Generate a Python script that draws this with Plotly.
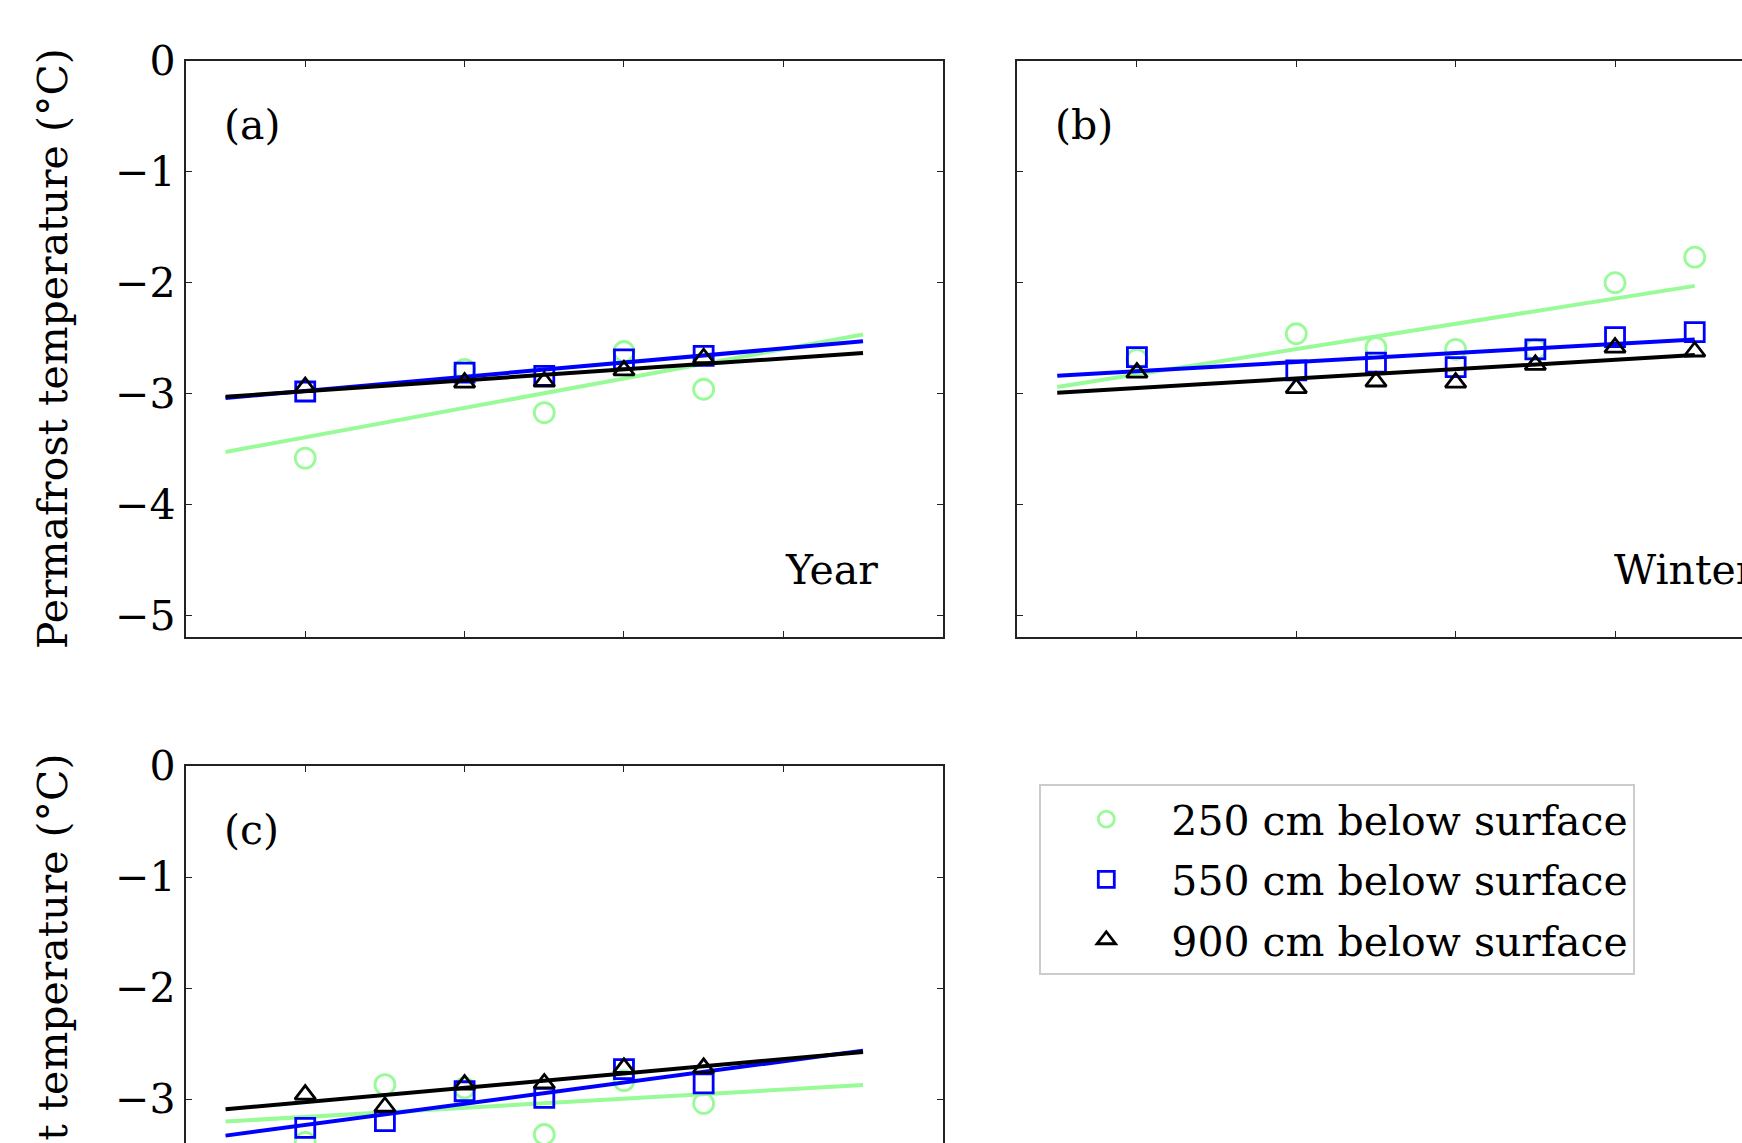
import numpy as np
import plotly.graph_objects as go

FONT = "DejaVu Serif"
FS = 41
W, H = 1742, 1143

# ---- data -------------------------------------------------------------
depth_labels = ["250 cm below surface", "550 cm below surface", "900 cm below surface"]

# (a) annual mean
years_year = [2010, 2012, 2013, 2014, 2015]
year_250 = [-3.58, -2.78, -3.17, -2.62, -2.96]
year_550 = [-2.98, -2.81, -2.84, -2.69, -2.66]
year_900 = [-2.94, -2.90, -2.89, -2.79, -2.68]

# (b) winter mean
years_winter = [2010, 2012, 2013, 2014, 2015, 2016, 2017]
winter_250 = [-2.69, -2.46, -2.585, -2.60, -2.60, -2.00, -1.77]
winter_550 = [-2.67, -2.79, -2.72, -2.76, -2.60, -2.49, -2.445]
winter_900 = [-2.81, -2.95, -2.89, -2.90, -2.74, -2.585, -2.62]

# (c)
years_c = [2010, 2011, 2012, 2013, 2014, 2015]
c_250 = [-3.39, -2.87, -2.90, -3.32, -2.835, -3.04]
c_550 = [-3.26, -3.20, -2.93, -2.99, -2.73, -2.86]
c_900 = [-2.96, -3.07, -2.87, -2.86, -2.72, -2.72]

trend_span = [2009, 2017]
year_ticks = [2010, 2012, 2014, 2016, 2018]

# ---- styling ----------------------------------------------------------
colors = ["#98FB98", "#0000FF", "#000000"]
symbols = ["circle-open", "square-open", "triangle-up-open"]
msizes = [20, 19, 18]


def px_x(p):
    return p / W


def px_y(p):
    return 1 - p / H


fig = go.Figure()

panels = [
    ("x", "y", years_year, [year_250, year_550, year_900], True),
    ("x2", "y2", years_winter, [winter_250, winter_550, winter_900], False),
    ("x3", "y3", years_c, [c_250, c_550, c_900], False),
]

for xa, ya, yrs, series, show_leg in panels:
    for i, vals in enumerate(series):
        fig.add_trace(go.Scatter(
            x=yrs, y=vals, mode="markers", xaxis=xa, yaxis=ya,
            name=depth_labels[i], showlegend=show_leg, legendgroup=f"g{i}",
            marker=dict(symbol=symbols[i], size=msizes[i], color=colors[i],
                        line=dict(width=2.8, color=colors[i])),
        ))
        # least-squares trend over the plotted years
        slope, icpt = np.polyfit(yrs, vals, 1)
        fx = np.array(trend_span, dtype=float)
        fig.add_trace(go.Scatter(
            x=fx, y=slope * fx + icpt, mode="lines", xaxis=xa, yaxis=ya,
            showlegend=False, line=dict(color=colors[i], width=4),
            hoverinfo="skip",
        ))

# ---- axes -------------------------------------------------------------
px_per_year = (942.7 - 185.7) / 9.5
left_a, right_a = 185.7, 942.7
left_b = 1017.4
top_ab, bot_ab = 60.7, 637.3
top_c = 766.0
px_per_deg = (615.7 - 60.7) / 5.0

x0 = 2008.5
xr_a = [x0, x0 + (right_a - left_a) / px_per_year]
xr_b = [x0, x0 + (W - left_b) / px_per_year]
yr_ab = [-(bot_ab - top_ab) / px_per_deg, 0]
yr_c = [-(H - top_c) / px_per_deg, 0]

common_x = dict(showticklabels=False, ticks="inside", ticklen=6, tickwidth=1.2,
                tickcolor="#222", showline=True, linecolor="#222", linewidth=2,
                showgrid=False, zeroline=False, tickvals=year_ticks,
                automargin=False)
common_y = dict(ticks="inside", ticklen=6, tickwidth=1.2, tickcolor="#222",
                showline=True, linecolor="#222", linewidth=2, showgrid=False,
                zeroline=False, tickvals=[0, -1, -2, -3, -4, -5],
                automargin=False,
                tickfont=dict(family=FONT, size=FS, color="black"))

fig.update_layout(
    xaxis=dict(domain=[px_x(left_a), px_x(right_a)], range=xr_a, anchor="y",
               mirror="ticks", **common_x),
    yaxis=dict(domain=[px_y(bot_ab), px_y(top_ab)], range=yr_ab, anchor="x",
               mirror="ticks", **common_y),
    xaxis2=dict(domain=[px_x(left_b), 1.0], range=xr_b, anchor="y2",
                mirror="ticks", **common_x),
    yaxis2=dict(domain=[px_y(bot_ab), px_y(top_ab)], range=yr_ab, anchor="x2",
                mirror=False, showticklabels=False,
                **{k: v for k, v in common_y.items() if k != "tickfont"}),
    xaxis3=dict(domain=[px_x(left_a), px_x(right_a)], range=xr_a, anchor="y3",
                side="top", mirror=False, **common_x),
    yaxis3=dict(domain=[0, px_y(top_c)], range=yr_c, anchor="x3",
                mirror="ticks", **common_y),
)

# ---- text -------------------------------------------------------------
def note(text, x, y, xanchor="left", angle=0):
    fig.add_annotation(text=text, x=px_x(x), y=px_y(y), xref="paper", yref="paper",
                       xanchor=xanchor, yanchor="middle", showarrow=False,
                       textangle=angle,
                       font=dict(family=FONT, size=FS, color="black"))


ytitle = "Permafrost temperature (°C)"
note(ytitle, 53, (top_ab + bot_ab) / 2, xanchor="center", angle=-90)
note(ytitle, 53, top_c + (bot_ab - top_ab) / 2, xanchor="center", angle=-90)
note("(a)", 221.5, 125)
note("(b)", left_b + 35.8, 125)
note("(c)", 221.5, top_c + 64)
note("Year", 782.5, 570)
note("Winter", 1611.5, 570)

fig.update_layout(
    width=W, height=H, autosize=False,
    margin=dict(l=0, r=0, t=0, b=0, autoexpand=False),
    paper_bgcolor="white", plot_bgcolor="white",
    font=dict(family=FONT, color="black"),
    legend=dict(x=px_x(1039.3), y=px_y(784), xanchor="left", yanchor="top",
                bgcolor="white", bordercolor="#cccccc", borderwidth=2,
                font=dict(family=FONT, size=FS, color="black"),
                itemwidth=120, tracegroupgap=4),
)

fig.write_html("out.html")
